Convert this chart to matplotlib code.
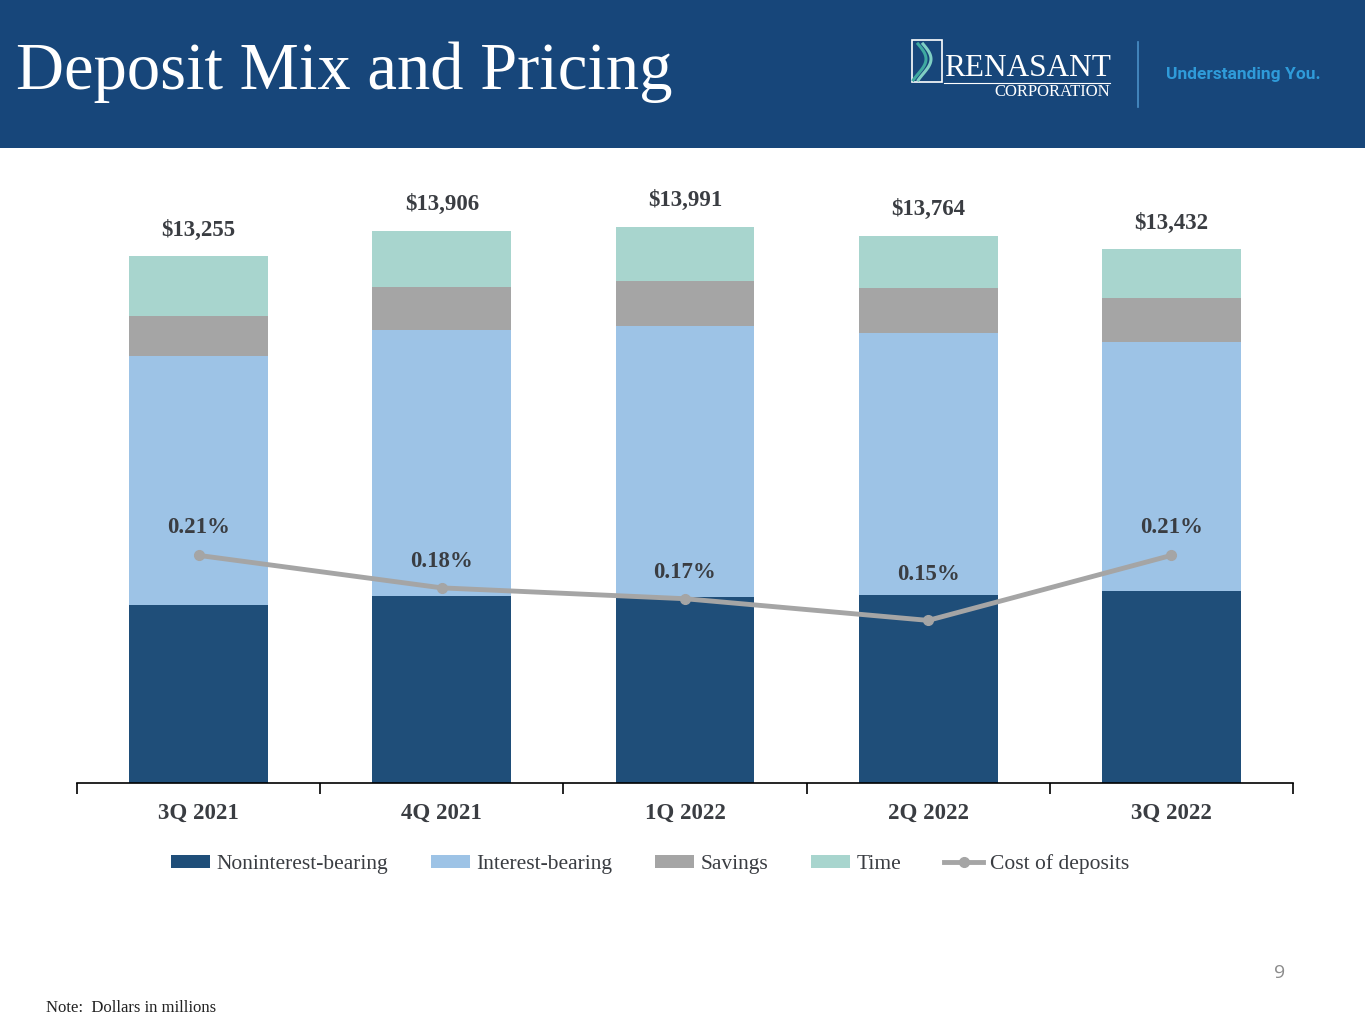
import numpy as np
import matplotlib.pyplot as plt
from matplotlib.patches import Rectangle
from matplotlib.lines import Line2D

# dados (US$ milhões)
quarters = ['3Q 2021', '4Q 2021', '1Q 2022', '2Q 2022', '3Q 2022']
noninterest = [4469, 4695, 4670, 4721, 4822]
interest = [6287, 6714, 6840, 6615, 6287]
savings = [1010, 1085, 1136, 1136, 1111]
time_dep = [1489, 1412, 1345, 1292, 1212]
totals = ['$13,255', '$13,906', '$13,991', '$13,764', '$13,432']
cost = [0.21, 0.18, 0.17, 0.15, 0.21]
cost_labels = ['0.21%', '0.18%', '0.17%', '0.15%', '0.21%']

c_nonint = '#1f4e79'
c_int = '#9dc3e6'
c_sav = '#a5a5a5'
c_time = '#a8d5ce'
c_line = '#a5a5a5'
c_text = '#3a3d42'
serif = 'Liberation Serif'

fig = plt.figure(figsize=(13.65, 10.24), dpi=100)

# faixa do título
fig.patches.append(Rectangle((0, 1 - 148 / 1024), 1, 148 / 1024, transform=fig.transFigure,
                             facecolor='#17467a', edgecolor='none', zorder=0))
fig.text(16 / 1365, 1 - 72 / 1024, 'Deposit Mix and Pricing', color='white', fontsize=48,
         family=serif, va='center', ha='left')

# logo (aproximação)
fig.patches.append(Rectangle((912 / 1365, 1 - 82 / 1024), 30 / 1365, 42 / 1024, transform=fig.transFigure,
                             facecolor='none', edgecolor='white', lw=1.2))
t = np.linspace(0, 1, 30)
for dx, col in [(0, '#3fa9a0'), (5, '#7fd0c4')]:
    fig.add_artist(Line2D((918 + dx + 8 * np.sin(t * np.pi * 1.2)) / 1365,
                          1 - (44 + 36 * t) / 1024, color=col, lw=2.2))
fig.text(944 / 1365, 1 - 69 / 1024, 'RENASANT', color='white', fontsize=22.5, family=serif,
         va='center', ha='left')
fig.add_artist(Line2D([944 / 1365, 1110 / 1365], [1 - 83 / 1024] * 2, color='white', lw=0.8))
fig.text(1110 / 1365, 1 - 92 / 1024, 'CORPORATION', color='white', fontsize=12, family=serif,
         va='center', ha='right')
fig.add_artist(Line2D([1138 / 1365] * 2, [1 - 42 / 1024, 1 - 107 / 1024], color='#4a90c8', lw=1.2))
fig.text(1166 / 1365, 1 - 74 / 1024, 'Understanding You.', color='#2f9bd9', fontsize=12.5,
         family='Roboto', weight='bold', va='center', ha='left')

# eixo principal
top_px, base_px = 170, 783
ax = fig.add_axes([77 / 1365, 1 - base_px / 1024, (1293 - 77) / 1365, (base_px - top_px) / 1024])
x = np.arange(len(quarters))
w = 0.57

b1 = np.array(noninterest)
b2 = b1 + np.array(interest)
b3 = b2 + np.array(savings)
ax.bar(x, noninterest, w, color=c_nonint, label='Noninterest-bearing', zorder=2)
ax.bar(x, interest, w, bottom=b1, color=c_int, label='Interest-bearing', zorder=2)
ax.bar(x, savings, w, bottom=b2, color=c_sav, label='Savings', zorder=2)
ax.bar(x, time_dep, w, bottom=b3, color=c_time, label='Time', zorder=2)
tot = b3 + np.array(time_dep)
for xi, tv, lab in zip(x, tot, totals):
    ax.annotate(lab, (xi, tv), xytext=(0, 19), textcoords='offset points', ha='center', va='center',
                fontsize=16.5, weight='bold', family=serif, color=c_text)

ymax = 15430
ax.set_ylim(0, ymax)
ax.set_xlim(-0.5, len(quarters) - 0.5)
ax.set_xticks(np.arange(-0.5, len(quarters)), minor=False)
ax.set_xticklabels([])
ax.set_xticks(x, minor=True)
ax.set_xticklabels(quarters, minor=True)
ax.tick_params(axis='x', which='major', length=8, width=1.2, color='#000000', direction='out')
ax.tick_params(axis='x', which='minor', length=0, pad=14, labelsize=16.5, labelcolor=c_text)
for lab in ax.get_xticklabels(minor=True):
    lab.set_fontfamily(serif)
    lab.set_fontweight('bold')
ax.set_yticks([])
for s in ['top', 'right', 'left']:
    ax.spines[s].set_visible(False)
ax.spines['bottom'].set_linewidth(1.2)

# linha custo dos depósitos
ax2 = ax.twinx()
ax2.plot(x, cost, color=c_line, lw=3.5, marker='o', ms=7, label='Cost of deposits', zorder=3)
ax2.set_ylim(0, 0.5655)
ax2.axis('off')
offs = [20, 19, 19, 33, 20]
for xi, c, lab, o in zip(x, cost, cost_labels, offs):
    ax2.annotate(lab, (xi, c), xytext=(0, o), textcoords='offset points', ha='center', va='center',
                 fontsize=16.5, weight='bold', family=serif, color=c_text)

h1, l1 = ax.get_legend_handles_labels()
h2, l2 = ax2.get_legend_handles_labels()
leg = fig.legend(h1 + h2, l1 + l2, loc='center', bbox_to_anchor=(650 / 1365, 1 - 864 / 1024), ncol=5,
                 frameon=False, prop={'family': serif, 'size': 15.5}, handlelength=1.8, handleheight=0.6,
                 columnspacing=2.0, handletextpad=0.3)
for tx in leg.get_texts():
    tx.set_color(c_text)

fig.text(1285 / 1365, 1 - 973 / 1024, '9', color='#8c8c8c', fontsize=14, family='Open Sans',
         ha='right', va='center')
fig.text(46 / 1365, 1 - 1008 / 1024, 'Note:  Dollars in millions', color='#222222', fontsize=12,
         family=serif, ha='left', va='center')

fig.savefig('out.png', dpi=100)
